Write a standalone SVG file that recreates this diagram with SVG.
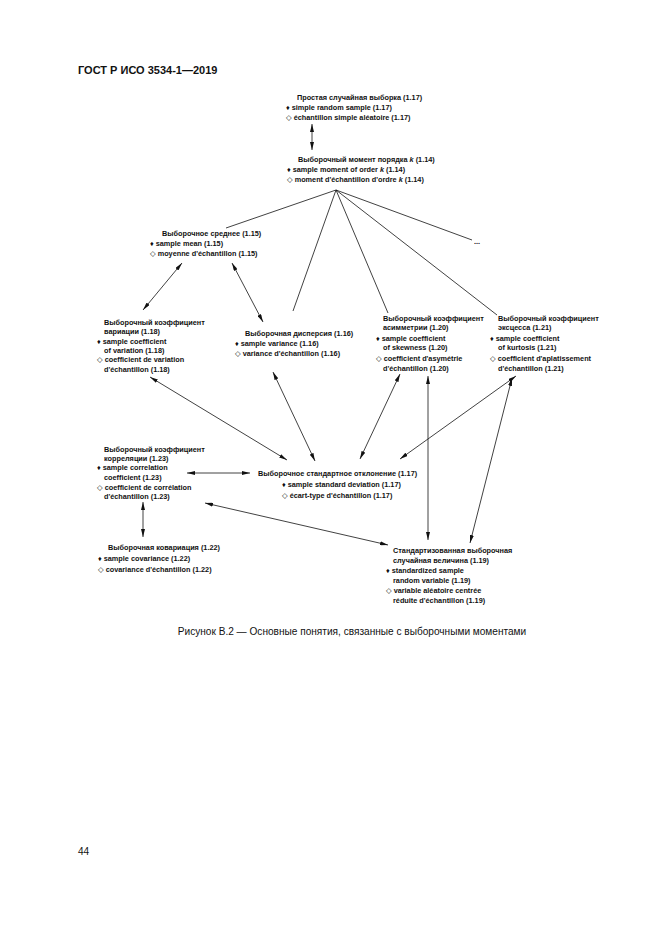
<svg xmlns="http://www.w3.org/2000/svg" width="661" height="935" viewBox="0 0 661 935">
<style>
.bg{fill:#fff}
.t{font-family:"Liberation Sans","DejaVu Sans",sans-serif;font-size:7.3px;font-weight:bold;fill:#111}
.hdr{font-family:"Liberation Sans",sans-serif;font-size:11px;font-weight:bold;fill:#111}
.cap{font-family:"Liberation Sans",sans-serif;font-size:10.1px;fill:#111}
.ln{stroke:#111;stroke-width:0.8;fill:none}
.ar{stroke:#111;stroke-width:0.8;fill:none;marker-start:url(#ah);marker-end:url(#ah)}
</style>
<defs>
<marker id="ah" viewBox="0 0 8 4" refX="8" refY="2" markerWidth="8" markerHeight="4" markerUnits="userSpaceOnUse" orient="auto-start-reverse">
<path d="M0,0 L8,2 L0,4 Z" fill="#111"/>
</marker>
</defs>
<rect class="bg" width="661" height="935"/>
<text class="hdr" x="78" y="74">ГОСТ Р ИСО 3534-1—2019</text>

<g id="connectors">
<line class="ar" x1="312" y1="124" x2="312" y2="150"/>
<line class="ln" x1="336" y1="190" x2="226" y2="228"/>
<line class="ln" x1="336" y1="190" x2="293" y2="311"/>
<line class="ln" x1="336" y1="190" x2="388" y2="313"/>
<line class="ln" x1="336" y1="190" x2="497" y2="315"/>
<line class="ln" x1="336" y1="190" x2="472" y2="240"/>
<line class="ar" x1="182" y1="263" x2="143" y2="310"/>
<line class="ar" x1="232" y1="263" x2="263" y2="322"/>
<line class="ar" x1="150" y1="377" x2="287" y2="460"/>
<line class="ar" x1="273" y1="372" x2="315" y2="461"/>
<line class="ar" x1="400" y1="374" x2="360" y2="459"/>
<line class="ar" x1="516" y1="376" x2="400" y2="459"/>
<line class="ar" x1="428" y1="376" x2="428" y2="540"/>
<line class="ar" x1="512" y1="378" x2="470" y2="543"/>
<line class="ar" x1="187" y1="473" x2="250" y2="473"/>
<line class="ar" x1="143" y1="502" x2="143" y2="537"/>
<line class="ar" x1="205" y1="503" x2="388" y2="545"/>
</g>

<g id="n_1_7">
<text class="t" x="297" y="99.5">Простая случайная выборка (1.17)</text>
<text class="t" x="286" y="109.5">♦ simple random sample (1.17)</text>
<text class="t" x="286" y="119.5">◇ échantillon simple aléatoire (1.17)</text>
</g>
<g id="n_1_14">
<text class="t" x="298" y="161.5">Выборочный момент порядка <tspan font-style="italic">k</tspan> (1.14)</text>
<text class="t" x="287" y="171.5">♦ sample moment of order <tspan font-style="italic">k</tspan> (1.14)</text>
<text class="t" x="287" y="182">◇ moment d'échantillon d'ordre <tspan font-style="italic">k</tspan> (1.14)</text>
</g>
<g id="n_dots">
<text class="t" x="474" y="244" font-size="5">...</text>
</g>
<g id="n_1_15">
<text class="t" x="162" y="235.5">Выборочное среднее (1.15)</text>
<text class="t" x="150" y="245.5">♦ sample mean (1.15)</text>
<text class="t" x="150" y="255.5">◇ moyenne d'échantillon (1.15)</text>
</g>
<g id="n_1_18">
<text class="t" x="104" y="324.5">Выборочный коэффициент</text>
<text class="t" x="104" y="334">вариации (1.18)</text>
<text class="t" x="97" y="343.5">♦ sample coefficient</text>
<text class="t" x="104" y="352.8">of variation (1.18)</text>
<text class="t" x="97" y="362.2">◇ coefficient de variation</text>
<text class="t" x="104" y="371.5">d'échantillon (1.18)</text>
</g>
<g id="n_1_16">
<text class="t" x="245" y="335.5">Выборочная дисперсия (1.16)</text>
<text class="t" x="235" y="346">♦ sample variance (1.16)</text>
<text class="t" x="235" y="356">◇ variance d'échantillon (1.16)</text>
</g>
<g id="n_1_20">
<text class="t" x="383" y="320.5">Выборочный коэффициент</text>
<text class="t" x="383" y="330">асимметрии (1.20)</text>
<text class="t" x="376" y="340.5">♦ sample coefficient</text>
<text class="t" x="383" y="350">of skewness (1.20)</text>
<text class="t" x="376" y="360.5">◇ coefficient d'asymétrie</text>
<text class="t" x="383" y="370.5">d'échantillon (1.20)</text>
</g>
<g id="n_1_21">
<text class="t" x="498" y="320.5">Выборочный коэффициент</text>
<text class="t" x="498" y="330">эксцесса (1.21)</text>
<text class="t" x="490" y="340.5">♦ sample coefficient</text>
<text class="t" x="498" y="350">of kurtosis (1.21)</text>
<text class="t" x="490" y="360.5">◇ coefficient d'aplatissement</text>
<text class="t" x="498" y="370.5">d'échantillon (1.21)</text>
</g>
<g id="n_1_23">
<text class="t" x="104" y="451.5">Выборочный коэффициент</text>
<text class="t" x="104" y="460.5">корреляции (1.23)</text>
<text class="t" x="97" y="470">♦ sample correlation</text>
<text class="t" x="104" y="479.5">coefficient (1.23)</text>
<text class="t" x="97" y="489.5">◇ coefficient de corrélation</text>
<text class="t" x="104" y="499">d'échantillon (1.23)</text>
</g>
<g id="n_1_17">
<text class="t" x="258" y="475.5">Выборочное стандартное отклонение (1.17)</text>
<text class="t" x="282" y="486.5">♦ sample standard deviation (1.17)</text>
<text class="t" x="282" y="498">◇ écart-type d'échantillon (1.17)</text>
</g>
<g id="n_1_22">
<text class="t" x="108" y="549.5">Выборочная ковариация (1.22)</text>
<text class="t" x="98" y="560.5">♦ sample covariance (1.22)</text>
<text class="t" x="98" y="571.5">◇ covariance d'échantillon (1.22)</text>
</g>
<g id="n_1_19">
<text class="t" x="393" y="553">Стандартизованная выборочная</text>
<text class="t" x="393" y="563">случайная величина (1.19)</text>
<text class="t" x="386" y="573">♦ standardized sample</text>
<text class="t" x="393" y="582.5">random variable (1.19)</text>
<text class="t" x="386" y="592.5">◇ variable aléatoire centrée</text>
<text class="t" x="393" y="602.5">réduite d'échantillon (1.19)</text>
</g>

<text class="cap" x="352" y="635" text-anchor="middle">Рисунок В.2 — Основные понятия, связанные с выборочными моментами</text>
<text class="cap" x="78" y="855">44</text>
</svg>
